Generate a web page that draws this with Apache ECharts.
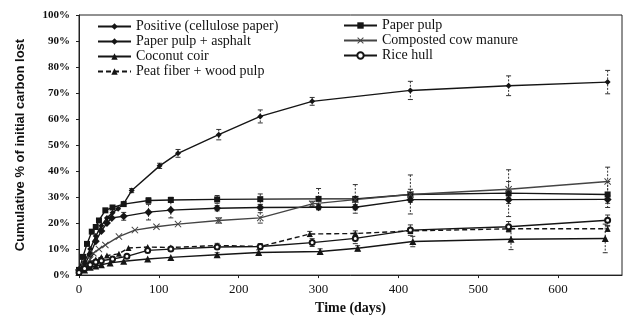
<!DOCTYPE html>
<html>
<head>
<meta charset="utf-8">
<script src="https://cdn.jsdelivr.net/npm/echarts@6/dist/echarts.min.js"></script>
<style>html,body{margin:0;padding:0;background:#fff}#c{width:626px;height:320px}</style>
</head>
<body>
<div id="c"></div>
<script>
// ---- data ----
const seriesNames = ['Positive (cellulose paper)', 'Paper pulp + asphalt', 'Coconut coir', 'Peat fiber + wood pulp', 'Paper pulp', 'Composted cow manure', 'Rice hull'];
const xTicks = [0, 100, 200, 300, 400, 500, 600];

const positiveDays = [0, 7, 14, 21, 28, 35, 42, 49, 56, 66, 101, 124, 175, 227, 292, 415, 538, 662];
const positiveVals = [2, 5, 10, 15, 19, 22, 24, 25.5, 27.5, 32.5, 42, 46.8, 54, 61, 66.8, 71, 72.8, 74.2];
const positiveErr  = [0, 0, 0, 0, 0, 0, 0, 0, 0, 0.8, 1, 1.5, 2, 2.5, 1.5, 3.5, 3.8, 4.5];

const pulpDays = [0, 5, 10, 16, 21, 25, 33, 42, 56, 87, 115, 173, 227, 300, 346, 415, 538, 662];
const pulpVals = [2, 7, 12, 16.7, 18.5, 21, 24.9, 26, 27.3, 28.7, 28.9, 29.1, 29.2, 29.3, 29.3, 31, 31.5, 31];
const pulpErr  = [0, 0, 0, 0, 0, 0, 0, 0, 0, 1, 1, 1.5, 2, 4, 5.5, 7.5, 9, 5];

const asphaltDays = [0, 7, 14, 21, 28, 35, 41, 56, 87, 115, 173, 227, 300, 346, 415, 538, 662];
const asphaltVals = [2, 4, 8, 13, 17, 20, 22, 22.6, 24.2, 25, 25.7, 26, 26.1, 26.1, 29, 29, 29.1];
const asphaltErr  = [0, 0, 0, 0, 0, 0, 0, 1.5, 3, 3, 1, 1, 1, 1, 1, 1.5, 1.5];

const manureDays = [0, 7, 14, 18, 25, 33, 50, 70, 97, 124, 175, 227, 292, 346, 415, 538, 662];
const manureVals = [1, 3, 6, 8.4, 10, 11.6, 14.8, 17.3, 18.6, 19.6, 21, 22, 27.4, 29, 31, 33, 36];
const manureErr  = [0, 0, 0, 0, 0, 0, 0, 0, 0, 0, 1, 2, 1, 1, 2, 3, 5.5];

const coirDays = [0, 7, 14, 21, 28, 39, 56, 86, 115, 173, 225, 302, 349, 418, 541, 659];
const coirVals = [1, 2, 3, 3.5, 4, 4.7, 5.3, 6.2, 6.8, 7.8, 8.7, 9.1, 10.3, 12.9, 13.8, 14.1];
const coirErr  = [0, 0, 0, 0, 0, 0, 0, 0, 0, 0.8, 1, 1, 1, 2, 4, 5.5];

const riceDays = [0, 7, 14, 21, 28, 42, 60, 86, 115, 173, 227, 292, 346, 415, 538, 662];
const riceVals = [1, 2.5, 4, 5, 5.5, 6.2, 7.2, 9.5, 10, 10.8, 11, 12.5, 14.1, 17.3, 18.6, 21.1];
const riceErr  = [0, 0, 0, 0, 0, 0, 0, 0, 0, 0, 1, 1.5, 2, 2, 2, 2];

const peatDays = [0, 7, 14, 21, 28, 35, 50, 62, 86, 115, 173, 227, 289, 346, 415, 538, 662];
const peatVals = [1, 3, 5, 6, 7, 7.5, 8.2, 10.4, 10.8, 10.6, 11.4, 11, 15.8, 16, 17, 17.8, 17.8];
const peatErr  = [0, 0, 0, 0, 0, 0, 0, 0, 0, 0, 0.8, 1, 1, 1, 1, 1, 1];

// ---- build ----
const zip = (d, v) => d.map((x, i) => [x, v[i]]);
const errPts = (d, v, e) => d.map((x, i) => [x, v[i], e[i]]).filter(p => p[2] > 0);

const INK = '#151515';
const crossPath = 'path://M0,1 L1,0 L5,4 L9,0 L10,1 L6,5 L10,9 L9,10 L5,6 L1,10 L0,9 L4,5 Z';

function lineSeries(name, data, symbol, size, opts) {
  opts = opts || {};
  const c = opts.color || INK;
  return {
    name: name, type: 'line', data: data, symbol: symbol, symbolSize: size,
    showAllSymbol: true, animation: false,
    lineStyle: { color: c, width: 1.4, type: opts.dash ? [5, 3] : 'solid' },
    itemStyle: { color: c, borderColor: c, borderWidth: opts.border || 0 },
    z: 3
  };
}

const errSets = [
  errPts(positiveDays, positiveVals, positiveErr),
  errPts(pulpDays, pulpVals, pulpErr),
  errPts(asphaltDays, asphaltVals, asphaltErr),
  errPts(manureDays, manureVals, manureErr),
  errPts(coirDays, coirVals, coirErr),
  errPts(riceDays, riceVals, riceErr),
  errPts(peatDays, peatVals, peatErr)
];
const errSeries = errSets.map(pts => ({
  type: 'custom', animation: false, silent: true, z: 2,
  data: pts,
  renderItem: function (params, api) {
    const x = api.value(0), y = api.value(1), e = api.value(2);
    const top = api.coord([x, y + e]);
    const bot = api.coord([x, y - e]);
    const cap = 2.5;
    return {
      type: 'group',
      children: [
        { type: 'line', shape: { x1: top[0], y1: top[1], x2: bot[0], y2: bot[1] }, style: { stroke: '#333', lineWidth: 1, lineDash: [2, 1.5] } },
        { type: 'line', shape: { x1: top[0] - cap, y1: top[1], x2: top[0] + cap, y2: top[1] }, style: { stroke: '#333', lineWidth: 1 } },
        { type: 'line', shape: { x1: bot[0] - cap, y1: bot[1], x2: bot[0] + cap, y2: bot[1] }, style: { stroke: '#333', lineWidth: 1 } }
      ]
    };
  }
}));

const chart = echarts.init(document.getElementById('c'), null, { renderer: 'canvas' });
const legendText = { fontFamily: 'Liberation Serif', fontSize: 14, color: '#111', lineHeight: 15 };
chart.setOption({
  backgroundColor: '#fff',
  animation: false,
  grid: { left: 79, right: 4, top: 15, bottom: 41, show: true, borderColor: '#222', borderWidth: 1 },
  legend: [
    { orient: 'vertical', left: 97, top: 19, itemWidth: 33, itemHeight: 8, itemGap: 0, padding: [0, 0, 0, 0], textStyle: legendText,
      data: seriesNames.slice(0, 4) },
    { orient: 'vertical', left: 343, top: 18, itemWidth: 33, itemHeight: 8, itemGap: 0, padding: [0, 0, 0, 0], textStyle: legendText,
      data: seriesNames.slice(4) }
  ],
  xAxis: {
    type: 'value', min: 0, max: 680, interval: 100,
    name: 'Time (days)', nameLocation: 'middle', nameGap: 25,
    nameTextStyle: { fontFamily: 'Liberation Serif', fontWeight: 'bold', fontSize: 14, color: '#111' },
    axisLine: { lineStyle: { color: '#222', width: 1 } },
    axisTick: { show: true, length: 3, lineStyle: { color: '#222' } },
    axisLabel: { showMaxLabel: false, margin: 8, fontFamily: 'Liberation Serif', fontSize: 13, color: '#111',
      formatter: v => (xTicks.indexOf(v) >= 0 ? String(v) : '') },
    splitLine: { show: false }
  },
  yAxis: {
    type: 'value', min: 0, max: 100, interval: 10,
    name: 'Cumulative % of initial carbon lost', nameLocation: 'middle', nameGap: 52, nameRotate: 90,
    nameTextStyle: { fontFamily: 'Liberation Sans', fontWeight: 'bold', fontSize: 13, color: '#111' },
    axisLine: { show: true, lineStyle: { color: '#222', width: 1 } },
    axisTick: { show: true, length: 3, lineStyle: { color: '#222' } },
    axisLabel: { margin: 9, fontFamily: 'Liberation Serif', fontWeight: 'bold', fontSize: 11, color: '#111', formatter: '{value}%' },
    splitLine: { show: false }
  },
  series: [
    lineSeries(seriesNames[0], zip(positiveDays, positiveVals), 'diamond', 6),
    lineSeries(seriesNames[1], zip(asphaltDays, asphaltVals), 'diamond', 8),
    lineSeries(seriesNames[2], zip(coirDays, coirVals), 'triangle', 7),
    lineSeries(seriesNames[3], zip(peatDays, peatVals), 'triangle', 6, { dash: true }),
    lineSeries(seriesNames[4], zip(pulpDays, pulpVals), 'rect', 6),
    lineSeries(seriesNames[5], zip(manureDays, manureVals), crossPath, 7, { color: '#444' }),
    lineSeries(seriesNames[6], zip(riceDays, riceVals), 'emptyCircle', 5, { border: 1.1 })
  ].concat(errSeries)
});
</script>
</body>
</html>
